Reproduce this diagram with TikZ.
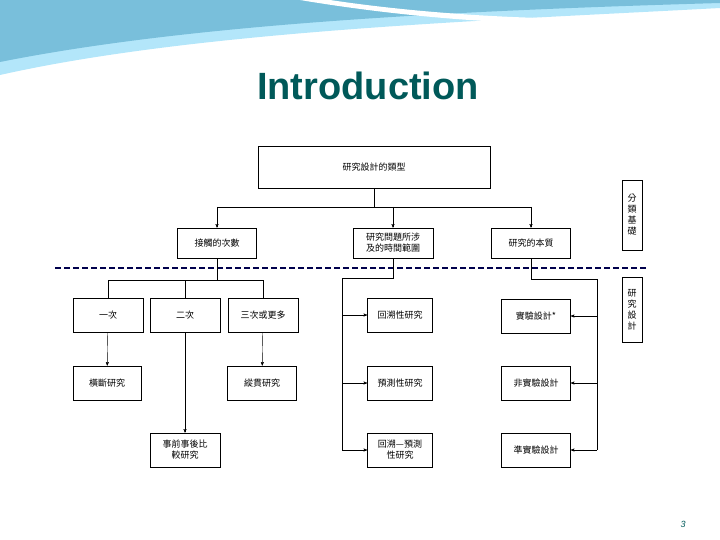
\documentclass[tikz,border=0pt]{standalone}
\usepackage{fontspec}
\setmainfont{Liberation Sans}
\newfontfamily\cjk{Noto Sans CJK TC}
\usetikzlibrary{calc,positioning,arrows}

\tikzset{
  box/.style={draw,thick,fill=white,font=\cjk\fontsize{9}{11}\selectfont,align=center,inner sep=1pt},
  link/.style={draw,thin},
  arr/.style={->,>=stealth'}
}

\begin{document}
\begin{tikzpicture}[x=1pt,y=-1pt]
  \useasboundingbox (0,0) rectangle (720,540);
  % banner
  \fill[cyan!30!white] (0,0) -- (720,0) -- (720,8) .. controls (500,20) and (200,30) .. (0,75) -- cycle;
  \fill[cyan!55!teal!60] (0,0) -- (720,0) -- (720,3) .. controls (480,10) and (200,22) .. (0,62) -- cycle;
  \fill[white] (300,0) .. controls (450,25) and (600,30) .. (720,18) -- (720,14) .. controls (600,24) and (450,18) .. (330,0) -- cycle;
  \node[font=\bfseries\fontsize{38}{40}\selectfont,text=teal!70!black] (title) at (368,86) {Introduction};
  \node[font=\itshape\fontsize{9}{10}\selectfont,text=teal!70!black] (page) at (683,524) {3};
  % top level
  \node[box,minimum width=232,minimum height=42] (Type) at (374,167) {研究設計的類型};
  \node[box,minimum width=79,minimum height=30] (Contact) at (217,243) {接觸的次數};
  \node[box,minimum width=80,minimum height=30] (Time) at (393,243) {研究問題所涉\\及的時間範圍};
  \node[box,minimum width=79,minimum height=30] (Nature) at (531,243) {研究的本質};
  \node[box,minimum width=20,minimum height=70] (Basis) at (632,215) {分\\類\\基\\礎};
  \node[box,minimum width=20,minimum height=65] (Design) at (632,310) {研\\究\\設\\計};
  \draw[blue!30!black,line width=2.2pt,dash pattern=on 6pt off 3pt] (55,268) -- (648,268);
  % design row
  \node[box,minimum width=70,minimum height=34] (Once) at (108,315) {一次};
  \node[box,minimum width=70,minimum height=34] (Twice) at (185,315) {二次};
  \node[box,minimum width=70,minimum height=34] (More) at (263,315) {三次或更多};
  \node[box,minimum width=68,minimum height=34] (Cross) at (107,383) {橫斷研究};
  \node[box,minimum width=69,minimum height=34] (Long) at (262,383) {縱貫研究};
  \node[box,minimum width=70,minimum height=34] (PrePost) at (185,450) {事前事後比\\較研究};
  \node[box,minimum width=65,minimum height=34] (Retro) at (400,315) {回溯性研究};
  \node[box,minimum width=65,minimum height=34] (Pros) at (400,383) {預測性研究};
  \node[box,minimum width=65,minimum height=34] (RetroPros) at (400,450) {回溯—預測\\性研究};
  \node[box,minimum width=69,minimum height=34] (Exp) at (536,316) {實驗設計*};
  \node[box,minimum width=69,minimum height=34] (NonExp) at (536,383) {非實驗設計};
  \node[box,minimum width=69,minimum height=34] (Quasi) at (536,450) {準實驗設計};
  %
  \coordinate (TopBus) at (374,207);
  \coordinate (LeftBus) at (342,278);
  \coordinate (RightBus) at (597,279);
  \draw[link] (Type) -- (TopBus);
  \draw[link] (TopBus -| Contact) -- (TopBus -| Nature);
  \draw[link,arr] (TopBus -| Contact) -- (Contact);
  \draw[link,arr] (TopBus -| Time) -- (Time);
  \draw[link,arr] (TopBus -| Nature) -- (Nature);
  %
  \draw[link] (Contact) -- (Contact |- 0,280);
  \draw[link] (Once.north) |- (0,280 -| More) -- (More.north);
  \draw[link] (Twice.north) -- (Twice |- 0,280);
  \draw[link,arr] (Once) -- (Cross);
  \draw[link,arr] (Twice) -- (PrePost);
  \draw[link,arr] (More) -- (Long);
  %
  \draw[link] (Time) |- (LeftBus) -- (LeftBus |- RetroPros);
  \draw[link,arr] (LeftBus |- Retro) -- (Retro);
  \draw[link,arr] (LeftBus |- Pros) -- (Pros);
  \draw[link,arr] (LeftBus |- RetroPros) -- (RetroPros);
  %
  \draw[link] (Nature) |- (RightBus) -- (RightBus |- Quasi);
  \draw[link,arr] (RightBus |- Exp) -- (Exp);
  \draw[link,arr] (RightBus |- NonExp) -- (NonExp);
  \draw[link,arr] (RightBus |- Quasi) -- (Quasi);
\end{tikzpicture}
\end{document}
